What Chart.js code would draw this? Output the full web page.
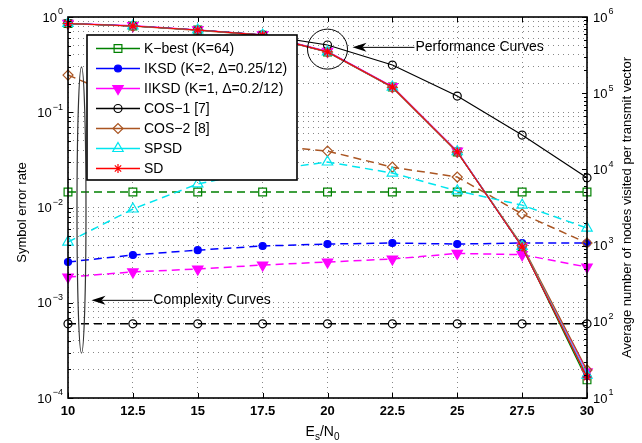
<!DOCTYPE html>
<html>
<head>
<meta charset="utf-8">
<script src="https://cdn.jsdelivr.net/npm/chart.js@4/dist/chart.umd.min.js"></script>
<style>
  html, body { margin: 0; padding: 0; background: #fff; }
  #wrap { width: 642px; height: 443px; }
</style>
</head>
<body>
<div id="wrap"><canvas id="c" width="642" height="443"></canvas></div>
<script>
const FONT = "'Liberation Sans', Arial, sans-serif";

const snr = [10, 12.5, 15, 17.5, 20, 22.5, 25, 27.5, 30];

// symbol error rate (left axis, solid lines)
const serKbest = [0.855, 0.804, 0.73, 0.645, 0.43, 0.184, 0.0383, 0.0039, 0.000155];
const serIksd  = [0.855, 0.804, 0.73, 0.645, 0.43, 0.184, 0.0383, 0.00385, 0.00017];
const serIiksd = [0.86, 0.81, 0.735, 0.65, 0.435, 0.186, 0.039, 0.0039, 0.000188];
const serCos1  = [0.855, 0.804, 0.73, 0.65, 0.508, 0.313, 0.148, 0.0576, 0.0205];
const serCos2  = [0.85, 0.80, 0.725, 0.64, 0.428, 0.182, 0.038, 0.0040, 0.000197];
const serSpsd  = [0.855, 0.804, 0.73, 0.645, 0.43, 0.184, 0.0385, 0.0039, 0.000174];
const serSd    = [0.855, 0.804, 0.73, 0.645, 0.43, 0.184, 0.0383, 0.00385, 0.000166];

// average nodes visited (right axis, dashed lines)
const cxKbest = [5040, 5040, 5040, 5040, 5040, 5040, 5040, 5040, 5040];
const cxIksd  = [609, 753, 872, 988, 1047, 1081, 1047, 1081, 1081];
const cxIiksd = [387, 451, 493, 556, 609, 667, 790, 760, 524];
const cxCos1  = [94, 94, 94, 94, 94, 94, 94, 94, 94];
const cxCos2  = [173000, 76000, 35000, 21000, 17400, 10700, 7940, 2600, 1081];
const cxSpsd  = [1114, 3020, 6440, 9600, 12500, 8960, 5220, 3400, 1700];

const names = ['K\u2212best (K=64)', 'IKSD (K=2, \u0394=0.25/12)', 'IIKSD (K=1, \u0394=0.2/12)',
               'COS\u22121 [7]', 'COS\u22122 [8]', 'SPSD', 'SD'];

const styles = [
  { color: '#008000', pointStyle: 'rect', radius: 5.5, rotation: 0, fill: false },
  { color: '#0000ff', pointStyle: 'circle', radius: 3.5, rotation: 0, fill: true },
  { color: '#ff00ff', pointStyle: 'triangle', radius: 6, rotation: 180, fill: true },
  { color: '#000000', pointStyle: 'circle', radius: 4, rotation: 0, fill: false },
  { color: '#aa5522', pointStyle: 'rectRot', radius: 5, rotation: 0, fill: false },
  { color: '#00e5ee', pointStyle: 'triangle', radius: 6, rotation: 0, fill: false },
  { color: '#ff0000', pointStyle: 'star', radius: 4.5, rotation: 0, fill: false }
];

const serSets = [serKbest, serIksd, serIiksd, serCos1, serCos2, serSpsd, serSd];
const cxSets = [cxKbest, cxIksd, cxIiksd, cxCos1, cxCos2, cxSpsd, null];

function pts(vals) { return snr.map((x, i) => ({ x: x, y: vals[i] })); }

const datasets = [];
serSets.forEach((vals, i) => {
  const s = styles[i];
  datasets.push({
    label: names[i], data: pts(vals), yAxisID: 'y',
    borderColor: s.color, borderWidth: 1.2,
    pointStyle: s.pointStyle, pointRadius: s.radius, pointRotation: s.rotation,
    pointBorderColor: s.color, pointBorderWidth: 1.2,
    pointBackgroundColor: s.fill ? s.color : 'rgba(0,0,0,0)',
    tension: 0, clip: false, order: 20 - i
  });
});
cxSets.forEach((vals, i) => {
  if (!vals) return;
  const s = styles[i];
  datasets.push({
    label: names[i] + ' cx', data: pts(vals), yAxisID: 'y1',
    borderColor: s.color, borderWidth: 1.5, borderDash: [8, 5],
    pointStyle: s.pointStyle, pointRadius: s.radius, pointRotation: s.rotation,
    pointBorderColor: s.color, pointBorderWidth: 1.2,
    pointBackgroundColor: s.fill ? s.color : 'rgba(0,0,0,0)',
    tension: 0, clip: false, order: 40 - i
  });
});

function logTicks(lo, hi) {
  const t = [];
  for (let e = lo; e < hi; e++) {
    for (let m = 1; m < 10; m++) t.push({ value: m * Math.pow(10, e) });
  }
  t.push({ value: Math.pow(10, hi) });
  return t;
}

function drawPow(ctx, exp, x, y, align) {
  ctx.font = '13px ' + FONT;
  const wb = ctx.measureText('10').width;
  ctx.font = '9px ' + FONT;
  const we = ctx.measureText(exp).width;
  const x0 = align === 'right' ? x - wb - we - 1 : x;
  ctx.textAlign = 'left';
  ctx.textBaseline = 'middle';
  ctx.font = '13px ' + FONT;
  ctx.fillText('10', x0, y + 1);
  ctx.font = '9px ' + FONT;
  ctx.fillText(exp, x0 + wb + 1, y - 5);
}

function arrowLeft(ctx, tipX, y, endX) {
  ctx.beginPath();
  ctx.moveTo(tipX + 10, y);
  ctx.lineTo(endX, y);
  ctx.stroke();
  ctx.beginPath();
  ctx.moveTo(tipX, y);
  ctx.lineTo(tipX + 14, y - 4.5);
  ctx.lineTo(tipX + 10, y);
  ctx.lineTo(tipX + 14, y + 4.5);
  ctx.closePath();
  ctx.fill();
}

const overlay = {
  id: 'overlay',
  afterDatasetsDraw(chart) {
    const ctx = chart.ctx;
    const a = chart.chartArea;
    const xs = chart.scales.x, ys = chart.scales.y, y1 = chart.scales.y1;
    ctx.save();
    ctx.strokeStyle = '#000';
    ctx.fillStyle = '#000';

    // inward tick marks
    ctx.lineWidth = 1;
    ys.ticks.forEach(t => {
      const p = Math.round(ys.getPixelForValue(t.value)) + 0.5;
      const major = Math.abs(Math.log10(t.value) - Math.round(Math.log10(t.value))) < 1e-9;
      ctx.beginPath(); ctx.moveTo(a.left, p); ctx.lineTo(a.left + (major ? 5 : 3), p); ctx.stroke();
    });
    y1.ticks.forEach(t => {
      const p = Math.round(y1.getPixelForValue(t.value)) + 0.5;
      const major = Math.abs(Math.log10(t.value) - Math.round(Math.log10(t.value))) < 1e-9;
      ctx.beginPath(); ctx.moveTo(a.right, p); ctx.lineTo(a.right - (major ? 5 : 3), p); ctx.stroke();
    });
    xs.ticks.forEach(t => {
      const p = Math.round(xs.getPixelForValue(t.value)) + 0.5;
      ctx.beginPath(); ctx.moveTo(p, a.bottom); ctx.lineTo(p, a.bottom - 5); ctx.stroke();
      ctx.beginPath(); ctx.moveTo(p, a.top); ctx.lineTo(p, a.top + 5); ctx.stroke();
    });

    // box
    ctx.lineWidth = 1.6;
    ctx.strokeRect(a.left, a.top, a.right - a.left, a.bottom - a.top);

    // log tick labels
    for (let e = -4; e <= 0; e++) {
      drawPow(ctx, e === 0 ? '0' : '\u2212' + (-e), a.left - 5, ys.getPixelForValue(Math.pow(10, e)), 'right');
    }
    for (let e = 1; e <= 6; e++) {
      drawPow(ctx, String(e), a.right + 6, y1.getPixelForValue(Math.pow(10, e)), 'left');
    }

    // axis titles
    ctx.font = '13px ' + FONT;
    ctx.textAlign = 'center';
    ctx.textBaseline = 'middle';
    ctx.save();
    ctx.translate(22, (a.top + a.bottom) / 2 + 5);
    ctx.rotate(-Math.PI / 2);
    ctx.fillText('Symbol error rate', 0, 0);
    ctx.restore();
    ctx.save();
    ctx.translate(627, (a.top + a.bottom) / 2);
    ctx.rotate(-Math.PI / 2);
    ctx.fillText('Average number of nodes visited per transmit vector', 0, 0);
    ctx.restore();

    // x title E_s/N_0
    ctx.textAlign = 'left';
    ctx.textBaseline = 'alphabetic';
    const parts = [['E', 14, 0], ['s', 10, 4], ['/N', 14, 0], ['0', 10, 4]];
    let tw = 0;
    parts.forEach(p => { ctx.font = p[1] + 'px ' + FONT; tw += ctx.measureText(p[0]).width; });
    let tx = (a.left + a.right) / 2 - 5 - tw / 2;
    parts.forEach(p => {
      ctx.font = p[1] + 'px ' + FONT;
      ctx.fillText(p[0], tx, 436 + p[2]);
      tx += ctx.measureText(p[0]).width;
    });

    // annotations
    ctx.lineWidth = 1;
    const cx = xs.getPixelForValue(20), cy = ys.getPixelForValue(0.46);
    ctx.beginPath(); ctx.arc(cx, cy, 20, 0, Math.PI * 2); ctx.stroke();
    const pY = ys.getPixelForValue(0.48);
    arrowLeft(ctx, cx + 25, pY, xs.getPixelForValue(23.35));
    ctx.font = '14px ' + FONT;
    ctx.textBaseline = 'middle';
    ctx.fillText('Performance Curves', xs.getPixelForValue(23.35) + 1, pY);

    ctx.strokeStyle = '#333';
    ctx.lineWidth = 1.2;
    const ex = xs.getPixelForValue(10.52);
    const eTop = ys.getPixelForValue(0.3), eBot = ys.getPixelForValue(2.95e-4);
    ctx.beginPath();
    ctx.ellipse(ex, (eTop + eBot) / 2, 4.5, (eBot - eTop) / 2, 0, 0, Math.PI * 2);
    ctx.stroke();
    ctx.strokeStyle = '#000';
    ctx.lineWidth = 1;
    const cY = ys.getPixelForValue(1.06e-3);
    arrowLeft(ctx, ex + 10, cY, xs.getPixelForValue(13.25));
    ctx.fillText('Complexity Curves', xs.getPixelForValue(13.25) + 1, cY);

    // legend
    const L = { x: 87, y: 35, w: 210, h: 145 };
    ctx.fillStyle = '#fff';
    ctx.fillRect(L.x, L.y, L.w, L.h);
    ctx.lineWidth = 1.6;
    ctx.strokeStyle = '#000';
    ctx.strokeRect(L.x, L.y, L.w, L.h);
    ctx.font = '14px ' + FONT;
    ctx.textBaseline = 'middle';
    ctx.textAlign = 'left';
    for (let i = 0; i < 7; i++) {
      const ds = chart.data.datasets[i];
      const ry = L.y + 13.5 + i * 20;
      ctx.strokeStyle = ds.borderColor;
      ctx.lineWidth = 1.3;
      ctx.beginPath(); ctx.moveTo(L.x + 9, ry); ctx.lineTo(L.x + 53, ry); ctx.stroke();
      ctx.fillStyle = ds.pointBackgroundColor;
      ctx.strokeStyle = ds.pointBorderColor;
      ctx.lineWidth = 1.2;
      Chart.helpers.drawPoint(ctx, {
        pointStyle: ds.pointStyle, radius: ds.pointRadius, rotation: ds.pointRotation, borderWidth: 1.2
      }, L.x + 31, ry);
      ctx.fillStyle = '#000';
      ctx.fillText(ds.label, L.x + 57, ry + 1);
    }
    ctx.restore();
  }
};

Chart.defaults.font.family = FONT;
Chart.defaults.color = '#000';

new Chart(document.getElementById('c'), {
  type: 'line',
  data: { datasets: datasets },
  options: {
    responsive: false,
    animation: false,
    events: [],
    layout: { padding: { top: 17, left: 0, right: 0, bottom: 0 } },
    plugins: { legend: { display: false }, tooltip: { enabled: false } },
    scales: {
      x: {
        type: 'linear', min: 10, max: 30,
        ticks: { stepSize: 2.5, padding: 6, font: { size: 13, weight: 'bold' }, color: '#000', maxRotation: 0 },
        grid: { color: '#888', lineWidth: 1, drawTicks: false },
        border: { display: false, dash: [1, 4] },
        afterFit: s => { s.height = 45; }
      },
      y: {
        type: 'logarithmic', position: 'left', min: 1e-4, max: 1,
        ticks: { display: false },
        grid: { color: '#888', lineWidth: 1, drawTicks: false },
        border: { display: false, dash: [1, 4] },
        afterBuildTicks: s => { s.ticks = logTicks(-4, 0); },
        afterFit: s => { s.width = 68; }
      },
      y1: {
        type: 'logarithmic', position: 'right', min: 10, max: 1e6,
        ticks: { display: false },
        grid: { display: false, drawTicks: false },
        border: { display: false },
        afterBuildTicks: s => { s.ticks = logTicks(1, 6); },
        afterFit: s => { s.width = 55; }
      }
    }
  },
  plugins: [overlay]
});
</script>
</body>
</html>
